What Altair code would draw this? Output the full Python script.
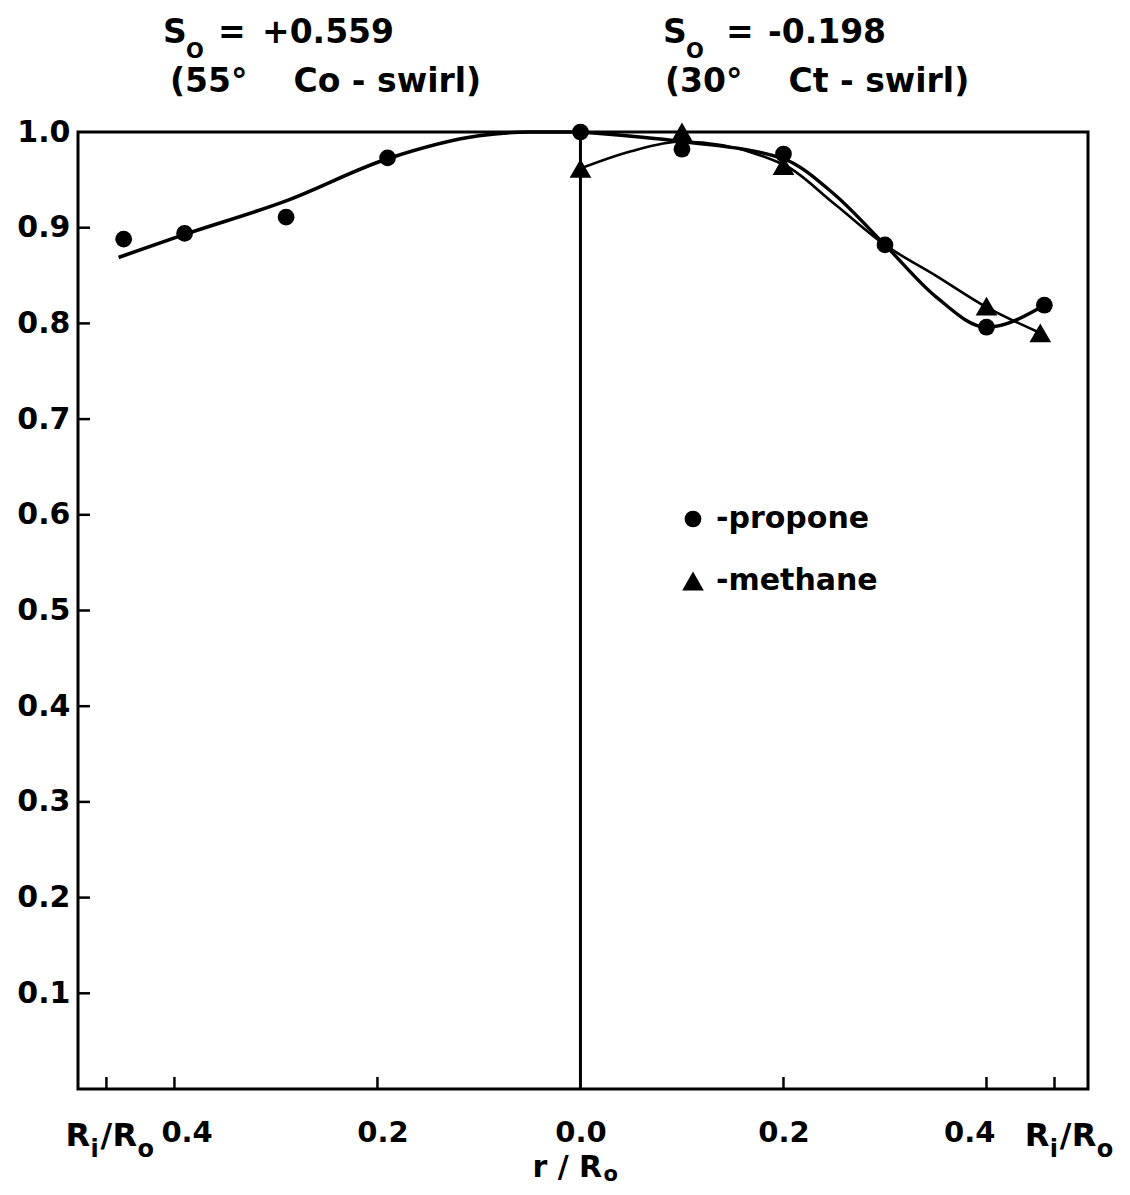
import json
import altair as alt
import pandas as pd

FONT = "DejaVu Sans"
NB = "\u00a0"

co_propone_x = [-0.45, -0.39, -0.29, -0.19]
co_propone_y = [0.888, 0.894, 0.911, 0.973]
ct_propone_x = [0.0, 0.1, 0.2, 0.3, 0.4, 0.457]
ct_propone_y = [1.0, 0.982, 0.977, 0.882, 0.796, 0.819]
ct_methane_x = [0.0, 0.1, 0.2, 0.4, 0.453]
ct_methane_y = [0.962, 1.0, 0.965, 0.818, 0.790]

# ---- hand-drawn fitted curves ----
curve_co_x = [-0.455, -0.39, -0.29, -0.19, -0.1, -0.05, 0.0]
curve_co_y = [0.869, 0.893, 0.928, 0.972, 0.996, 1.0, 1.0]
curve_ct_propone_x = [0.0, 0.1, 0.2, 0.25, 0.3, 0.35, 0.4, 0.457]
curve_ct_propone_y = [1.0, 0.99, 0.972, 0.935, 0.882, 0.828, 0.796, 0.819]
curve_ct_methane_x = [0.0, 0.05, 0.1, 0.2, 0.25, 0.3, 0.35, 0.4, 0.453]
curve_ct_methane_y = [0.962, 0.98, 0.99, 0.966, 0.925, 0.882, 0.85, 0.817, 0.79]

# ---- axes ----
y_ticks = [0.1, 0.2, 0.3, 0.4, 0.5, 0.6, 0.7, 0.8, 0.9]
y_labels = [0.1, 0.2, 0.3, 0.4, 0.5, 0.6, 0.7, 0.8, 0.9, 1.0]
x_ticks = [-0.467, -0.4, -0.2, 0.2, 0.4, 0.467]
x_label_pos = [-0.388, -0.195, 0.0, 0.2, 0.383]
x_label_text = ["0.4", "0.2", "0.0", "0.2", "0.4"]
ri_label_pos = [-0.461, 0.484]   # where the "Ri/Ro" labels sit

W, H = 1010, 957

pts = pd.concat([
    pd.DataFrame({"x": co_propone_x, "y": co_propone_y, "gas": "propone"}),
    pd.DataFrame({"x": ct_propone_x, "y": ct_propone_y, "gas": "propone"}),
    pd.DataFrame({"x": ct_methane_x, "y": ct_methane_y, "gas": "methane"}),
], ignore_index=True)

xscale = alt.Scale(domain=[-0.495, 0.5], nice=False, zero=False)
yscale = alt.Scale(domain=[0, 1.0], nice=False)

label_expr = "%s[indexof(%s, datum.value)]" % (json.dumps(x_label_text), json.dumps(x_label_pos))

xaxis = alt.Axis(values=x_label_pos, labelExpr=label_expr, ticks=False, domain=False, grid=False,
                 labelPadding=29, labelFontSize=29, title=None, labelFlush=False, labelOverlap=False)
yaxis = alt.Axis(values=y_labels, format=".1f", ticks=False, domain=False, grid=False,
                 labelPadding=8, title=None, labelOverlap=False)


def curve(xs, ys, width):
    return alt.Chart(pd.DataFrame({"x": xs, "y": ys})).mark_line(
        color="black", strokeWidth=width, interpolate="monotone").encode(
        x=alt.X("x:Q", scale=xscale, axis=xaxis), y=alt.Y("y:Q", scale=yscale, axis=yaxis))


lines = [
    curve(curve_co_x, curve_co_y, 3.6),
    curve(curve_ct_propone_x, curve_ct_propone_y, 3.4),
    curve(curve_ct_methane_x, curve_ct_methane_y, 2.6),
]

leg = alt.Legend(title=None, orient="none", legendX=600, legendY=372,
                 labelExpr="'-' + datum.label", labelLimit=400,
                 symbolFillColor="black", symbolStrokeColor="black", symbolStrokeWidth=0,
                 labelFontSize=30, labelFont=FONT, labelFontWeight="bold", labelColor="black",
                 rowPadding=32, labelOffset=8)
gas_dom = ["propone", "methane"]
points = alt.Chart(pts).mark_point(filled=True, color="black", opacity=1).encode(
    x=alt.X("x:Q", scale=xscale),
    y=alt.Y("y:Q", scale=yscale),
    shape=alt.Shape("gas:N", scale=alt.Scale(domain=gas_dom, range=["circle", "triangle-up"]), legend=leg),
    size=alt.Size("gas:N", scale=alt.Scale(domain=gas_dom, range=[280, 470]), legend=leg),
)

center = alt.Chart(pd.DataFrame({"x": [0.0], "y": [0.0], "y2": [1.0]})).mark_rule(
    color="black", strokeWidth=3).encode(
    x=alt.X("x:Q", scale=xscale), y=alt.Y("y:Q", scale=yscale), y2="y2:Q")

yt = alt.Chart(pd.DataFrame({"y": y_ticks})).mark_rule(color="black", strokeWidth=2.5).encode(
    y=alt.Y("y:Q", scale=yscale), x=alt.value(0), x2=alt.value(12))

xt = alt.Chart(pd.DataFrame({"x": x_ticks})).mark_rule(color="black", strokeWidth=2.5).encode(
    x=alt.X("x:Q", scale=xscale), y=alt.value(H), y2=alt.value(H - 12))

one = pd.DataFrame({"k": [0]})


def txt(text, x, y, size=33):
    return alt.Chart(one).mark_text(text=text, align="left", baseline="alphabetic", fontSize=size,
                                    font=FONT, fontWeight="bold", color="black").encode(
        x=alt.value(x), y=alt.value(y))


def piece(xpos, text, dx, y, size):
    return alt.Chart(pd.DataFrame({"x": [xpos]})).mark_text(
        text=text, align="left", baseline="alphabetic", fontSize=size, dx=dx,
        font=FONT, fontWeight="bold", color="black").encode(
        x=alt.X("x:Q", scale=xscale), y=alt.value(y))


ann = [
    txt("S", 85, -89), txt("O", 108, -74, 21), txt("=", 140, -89), txt("+0.559", 184, -89),
    txt("(55\u00b0" + NB * 4 + "Co" + NB + "-" + NB + "swirl)", 92, -40),
    txt("S", 585, -89), txt("O", 608, -74, 21), txt("=", 648, -89), txt("-0.198", 690, -89),
    txt("(30\u00b0" + NB * 4 + "Ct" + NB + "-" + NB + "swirl)", 587, -40),
]

# Ri/Ro tick labels built from pieces, anchored on the data positions
LB = 1014
for p in ri_label_pos:
    ann += [
        piece(p, "R", -47, LB, 32),
        piece(p, "i", -22, LB + 11, 24),
        piece(p, "/", -12, LB, 32),
        piece(p, "R", 0, LB, 32),
        piece(p, "o", 25, LB + 11, 24),
    ]

# axis title r / Ro
ann += [piece(0.0, "r" + NB + "/" + NB + "R", -48, 1045, 30), piece(0.0, "o", 23, 1049, 21)]

chart = alt.layer(*lines, center, yt, xt, points, *ann).properties(
    width=W, height=H,
    autosize=alt.AutoSizeParams(type="none"),
    padding={"left": 70, "top": 124, "right": 34, "bottom": 98},
).configure_view(stroke="black", strokeWidth=3).configure_axis(
    labelFont=FONT, labelFontSize=30, labelFontWeight="bold", labelColor="black",
)

chart.save("out.html", embed_options={"renderer": "svg", "actions": False})
